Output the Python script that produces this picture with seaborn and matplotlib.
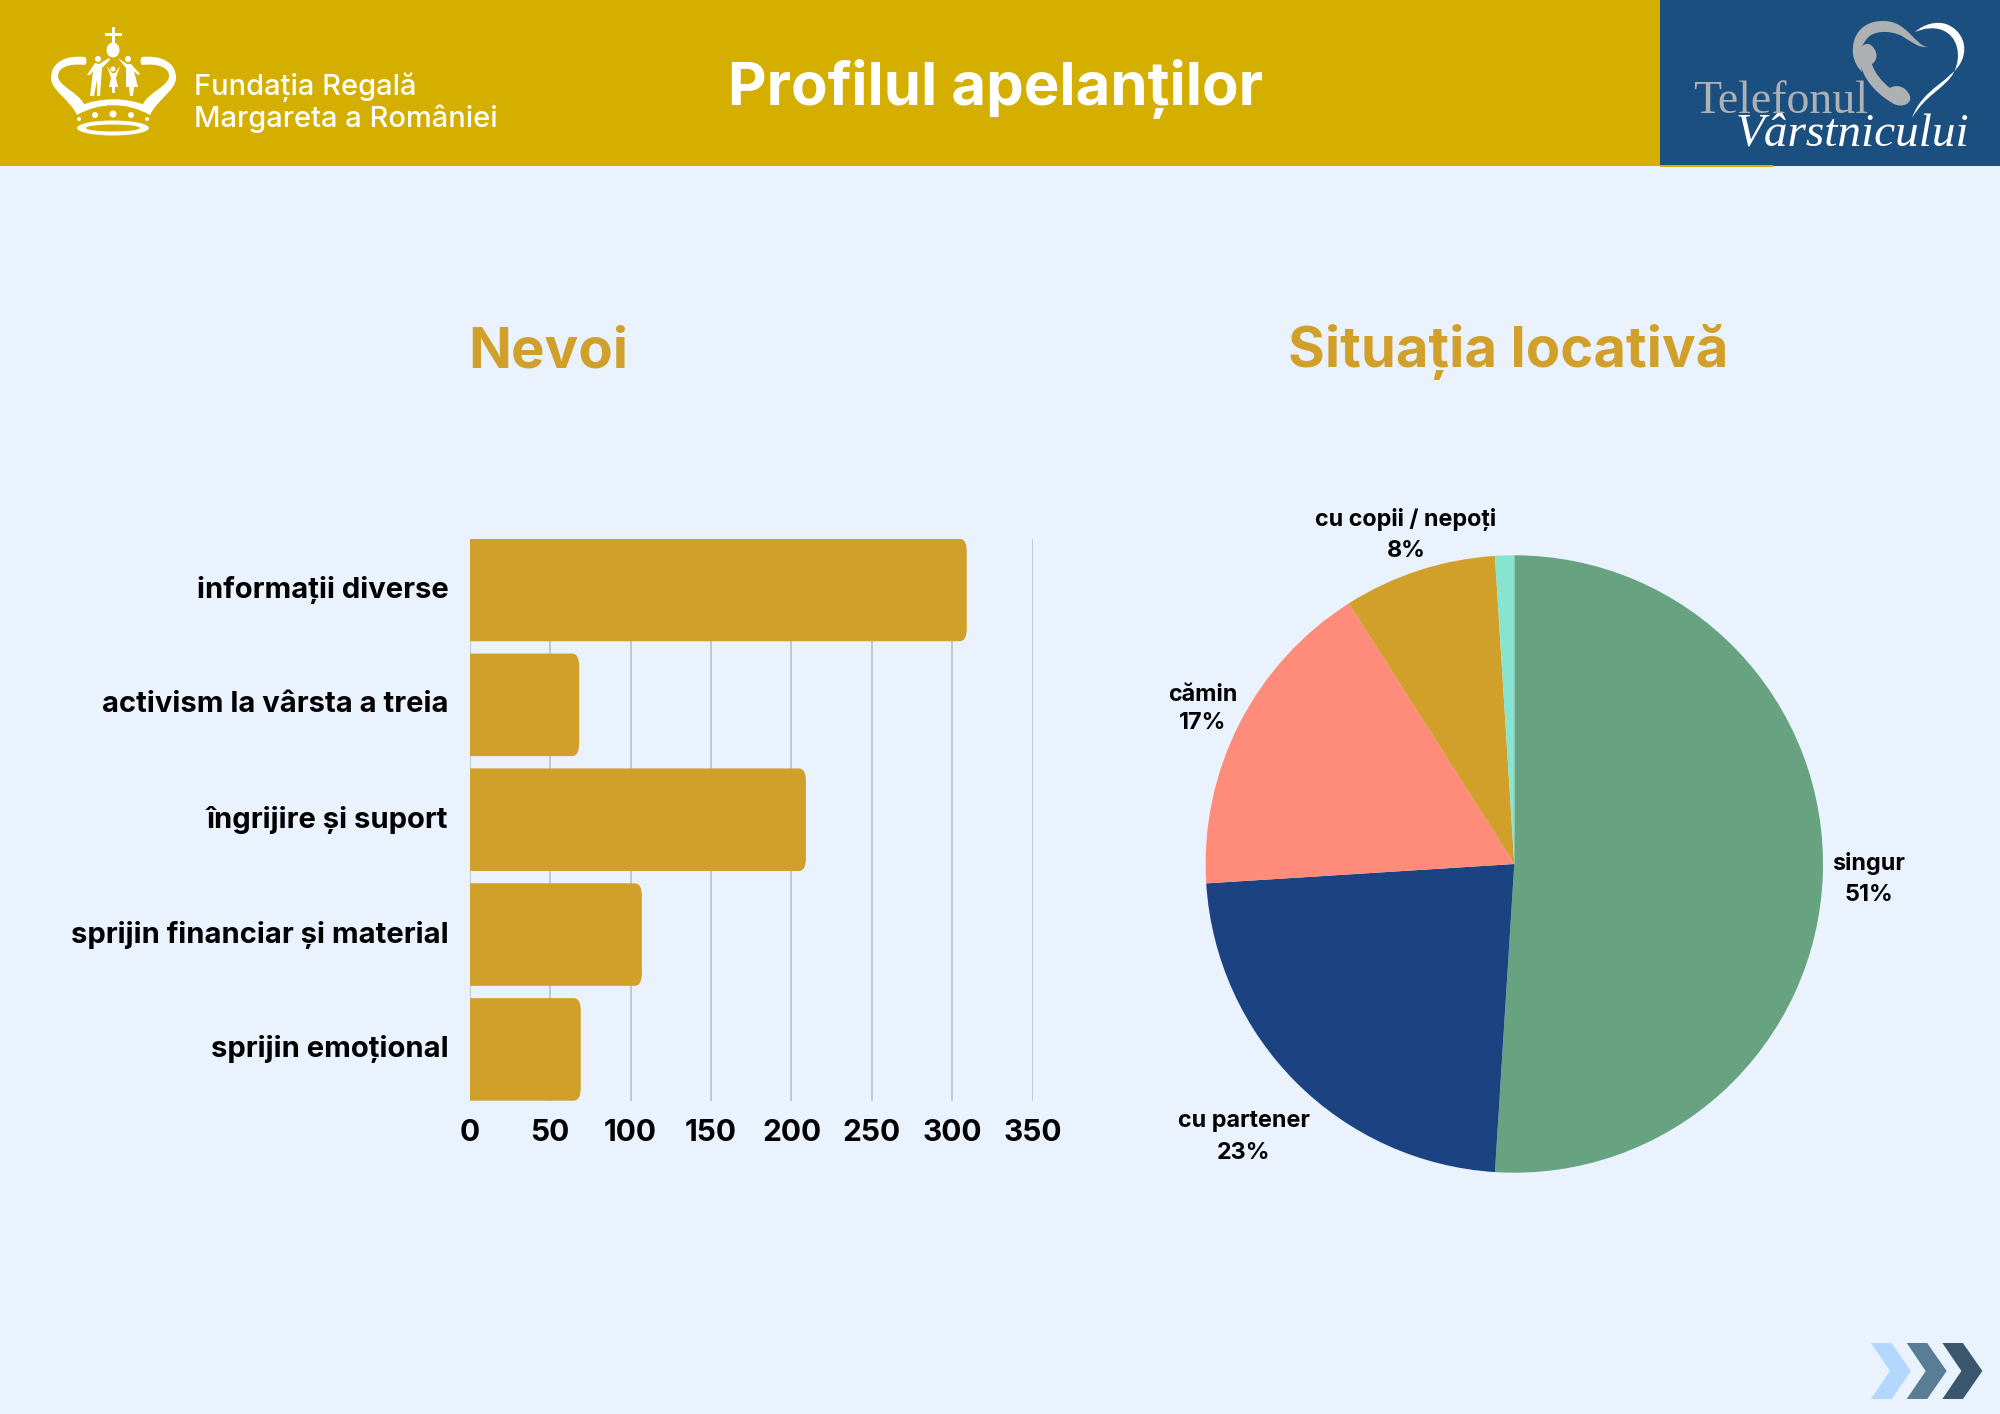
import matplotlib
matplotlib.use("Agg")
import matplotlib.pyplot as plt
import seaborn as sns
import pandas as pd
from matplotlib.patches import Circle, Ellipse, FancyBboxPatch, PathPatch, Polygon, Rectangle
from matplotlib.path import Path

# --- data ---
needs = ["informații diverse", "activism la vârsta a treia", "îngrijire și suport",
         "sprijin financiar și material", "sprijin emoțional"]
need_counts = [309, 68, 209, 107, 69]
x_ticks = [0, 50, 100, 150, 200, 250, 300, 350]

housing = ["singur", "cu partener", "cămin", "cu copii / nepoți", ""]
housing_pct = [51, 23, 17, 8, 1]
housing_colors = ["#67A380", "#1B4382", "#FF8B7A", "#D1A02B", "#87E4D0"]

BG = "#EAF2FE"
GOLD = "#D4AF00"
NAVY = "#1B4F7F"
BAR = "#D1A02B"
FONT = ["Inter", "DejaVu Sans"]

W, H = 2000, 1414

sns.set_theme(style="white")
plt.rcParams["font.family"] = FONT

fig = plt.figure(figsize=(20, 14.14), dpi=100, facecolor=BG)


def px_axes(x0, y0, x1, y1, **kw):
    return fig.add_axes([x0 / W, 1 - y1 / H, (x1 - x0) / W, (y1 - y0) / H], **kw)


# --- overlay in pixel coordinates for header and decorations ---
bg = fig.add_axes([0, 0, 1, 1], zorder=0)
bg.set_xlim(0, W)
bg.set_ylim(H, 0)
bg.axis("off")
bg.add_patch(Rectangle((0, 0), W, 166, color=GOLD, lw=0))
bg.add_patch(Rectangle((1660, 0), 340, 166, color=NAVY, lw=0))
bg.add_patch(Rectangle((1660, 165), 113, 1.5, color=GOLD, lw=0))

bg.text(995, 89, "Profilul apelanților", color="white", fontsize=43, fontweight="bold",
        ha="center", va="center")
bg.text(194, 87, "Fundația Regală", color="white", fontsize=20.9, fontweight=500, ha="left", va="center")
bg.text(194, 119, "Margareta a României", color="white", fontsize=20.9, fontweight=500, ha="left", va="center")

bg.text(468, 352, "Nevoi", color=BAR, fontsize=40.5, fontweight="bold", ha="left", va="center")
bg.text(1508, 352, "Situația locativă", color=BAR, fontsize=40.5, fontweight="bold",
        ha="center", va="center")


def shape(verts, color):
    # verts: first is a moveto, then triples of bezier control points
    codes = [Path.MOVETO] + [Path.CURVE4] * (len(verts) - 1)
    bg.add_patch(PathPatch(Path(verts, codes), facecolor=color, edgecolor="none", lw=0))


# crown logo
bg.add_patch(Rectangle((112, 27), 3, 18, color="white", lw=0))
bg.add_patch(Rectangle((105, 33), 17, 3, color="white", lw=0))
bg.add_patch(Ellipse((113, 50), 13, 15, color="white", lw=0))
for side in (1, -1):
    cx = 113.5
    m = lambda x: cx + side * (x - cx)
    shape([(m(85), 57), (m(66), 55), (m(51), 62), (m(51), 78),
           (m(51), 90), (m(70), 100), (m(77), 115),
           (m(80), 110), (m(82), 106), (m(84), 104),
           (m(78), 92), (m(58), 86), (m(58), 76),
           (m(58), 68), (m(68), 63), (m(85), 65),
           (m(87), 63), (m(87), 59), (m(85), 57)], "white")
shape([(77, 115), (100, 102), (127, 102), (150, 115),
       (150, 110), (149, 108), (148, 106),
       (125, 97), (102, 97), (79, 106),
       (78, 108), (77, 111), (77, 115)], "white")
for dx, dy, r in [(79, 119, 2), (95, 115, 3), (113, 114, 3.5), (131, 115, 3), (147, 119, 2)]:
    bg.add_patch(Circle((dx, dy), r, color="white", lw=0))
bg.add_patch(Ellipse((113, 128), 72, 15, color="white", lw=0))
bg.add_patch(Ellipse((113, 128), 54, 7, color=GOLD, lw=0))
for hx, hy, r in [(98, 59, 3), (113, 69, 2.5), (128, 59, 3)]:
    bg.add_patch(Circle((hx, hy), r, color="white", lw=0))
bg.add_patch(Polygon([(109, 58), (99, 64), (95, 63), (87, 75), (90, 75), (93, 71),
                      (90, 96), (94, 96), (97, 80), (97, 96), (100, 96), (102, 68), (110, 60)],
                     color="white", lw=0))
bg.add_patch(Polygon([(118, 58), (127, 64), (131, 64), (140, 74), (138, 75), (134, 71),
                      (138, 87), (134, 87), (133, 96), (130, 96), (129, 87), (126, 87), (126, 68)],
                     color="white", lw=0))
bg.add_patch(Polygon([(107, 66), (112, 73), (115, 73), (120, 66), (116, 78), (118, 87), (115, 87),
                      (115, 93), (112, 93), (112, 87), (109, 87), (111, 78)],
                     color="white", lw=0))

# phone / heart logo
GREY = "#ADB1B4"
# grey arc of the heart
shape([(1928, 47), (1915, 46), (1908, 22), (1885, 21),
       (1862, 20), (1851, 36), (1853, 54),
       (1854, 62), (1858, 68), (1862, 72),
       (1860, 60), (1858, 50), (1866, 40),
       (1872, 30), (1890, 30), (1902, 36),
       (1912, 42), (1918, 48), (1928, 47)], GREY)
# handset
shape([(1860, 50), (1856, 70), (1872, 92), (1894, 104),
       (1902, 108), (1912, 104), (1910, 96),
       (1906, 86), (1896, 84), (1890, 88),
       (1882, 82), (1874, 72), (1872, 64),
       (1878, 60), (1878, 52), (1872, 46),
       (1868, 42), (1862, 44), (1860, 50)], GREY)
# white arc of the heart
shape([(1915, 32), (1924, 24), (1936, 21), (1946, 24),
       (1962, 30), (1968, 46), (1962, 60),
       (1954, 80), (1922, 88), (1912, 118),
       (1926, 94), (1946, 88), (1954, 72),
       (1962, 56), (1958, 36), (1942, 30),
       (1934, 27), (1924, 28), (1915, 32)], "white")
bg.text(1693, 113, "Telefonul", color=GREY, fontsize=33, family="Liberation Serif",
        ha="left", va="baseline")
bg.text(1736, 145, "Vârstnicului", color="white", fontsize=34, family="Liberation Serif",
        style="italic", ha="left", va="baseline")

# arrows, bottom right
for offset, col in zip([0, 35.7, 71.4], ["#B3D7FF", "#5A7D96", "#3A576D"]):
    bg.add_patch(Polygon([(1871 + offset, 1343), (1891.5 + offset, 1343), (1911 + offset, 1371),
                          (1891.5 + offset, 1399), (1871 + offset, 1399), (1890 + offset, 1371)],
                         color=col, lw=0))

# --- bar chart ---
ax = px_axes(469.8, 538.7, 1032.7, 1100.7, zorder=2)
ax.patch.set_alpha(0)
df = pd.DataFrame({"need": needs, "count": need_counts})
sns.barplot(data=df, x="count", y="need", orient="h", color=BAR, width=0.893, saturation=1, ax=ax)
ax.set_xlim(0, 350)
ax.set_ylim(4.4465, -0.4465)
ax.set_xticks(x_ticks)
ax.set_xlabel("")
ax.set_ylabel("")
ax.set_axisbelow(True)
ax.grid(axis="x", color="#BCC3D0", lw=1.3)
ax.grid(axis="y", visible=False)
sns.despine(ax=ax, left=True, bottom=True)
ax.tick_params(axis="x", length=0, pad=13, labelsize=21.5, labelcolor="black")
ax.tick_params(axis="y", length=0, pad=15.5, labelsize=21, labelcolor="black")
for lab in ax.get_xticklabels() + ax.get_yticklabels():
    lab.set_fontweight("bold")
    if lab in ax.get_yticklabels():
        lab.set_verticalalignment("center")

# rounded right corners, the left end is clipped by the axes
x_px = 562.9 / 350
y_px = 562 / (2 * 4.4465)
radius = 7 / x_px
for bar in list(ax.patches):
    x, y, w, h = bar.get_x(), bar.get_y(), bar.get_width(), bar.get_height()
    ax.add_patch(FancyBboxPatch((x - 10, y), w + 10, h,
                                boxstyle=f"round,pad=0,rounding_size={radius}",
                                mutation_aspect=x_px / y_px,
                                facecolor=BAR, edgecolor="none", zorder=3))
    bar.remove()

# --- pie chart ---
pie_ax = px_axes(1514.3 - 308.7, 864 - 308.7, 1514.3 + 308.7, 864 + 308.7, zorder=2)
pie_ax.pie(housing_pct, colors=housing_colors, startangle=90, counterclock=False, radius=1,
           wedgeprops={"linewidth": 0})
pie_ax.set_xlim(-1, 1)
pie_ax.set_ylim(-1, 1)

label_pos = [(1869, 879, 1.55), (1244, 1137, 1.55), (1203, 709, 1.3), (1406, 535, 1.55)]
for name, pct, (lx, ly, sp) in zip(housing, housing_pct, label_pos):
    bg.text(lx, ly, f"{name}\n{pct}%", color="black", fontsize=16.8, fontweight="bold",
            ha="center", va="center", linespacing=sp)

fig.savefig("out.png", dpi=100, facecolor=BG)
